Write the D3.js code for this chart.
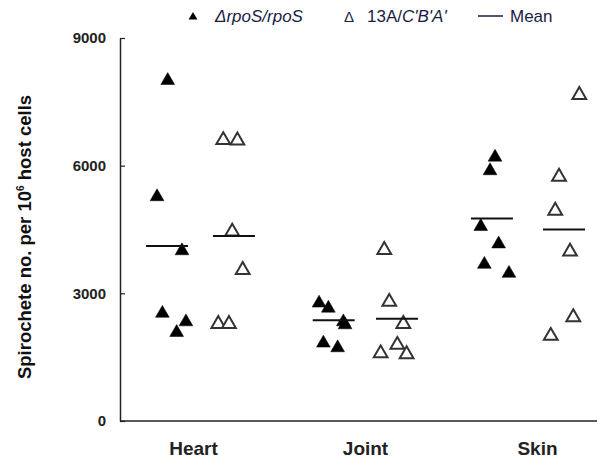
<!DOCTYPE html>
<html>
<head>
<meta charset="utf-8">
<script src="https://cdn.jsdelivr.net/npm/d3@7"></script>
<style>
  body { margin: 0; background: #fff; }
  text { font-family: Arial, "Liberation Sans", sans-serif; }
</style>
</head>
<body>
<div id="chart"></div>
<script>
const categories = ['Heart', 'Joint', 'Skin'];
const yTicks = [0, 3000, 6000, 9000];

// filled triangles: ΔrpoS/rpoS
const rposValues = [
  [8000, 5270, 4000, 2530, 2330, 2080],
  [2770, 2650, 2330, 2260, 1830, 1720],
  [6200, 5880, 4570, 4160, 3680, 3470]
];
const rposJitter = [
  [-0.147, -0.209, -0.064, -0.178, -0.041, -0.095],
  [-0.267, -0.213, -0.126, -0.116, -0.242, -0.159],
  [-0.244, -0.273, -0.327, -0.223, -0.306, -0.163]
];
const rposMeans = [4110, 2370, 4760];
const rposMeanJitter = [-0.151, -0.182, -0.262];

// open triangles: 13A/C'B'A'
const mutValues = [
  [6600, 6590, 4450, 3550, 2280, 2280],
  [4020, 2800, 2280, 1790, 1590, 1570],
  [7660, 5740, 4940, 3980, 2440, 2000]
];
const mutJitter = [
  [0.176, 0.258, 0.228, 0.289, 0.147, 0.209],
  [0.112, 0.141, 0.223, 0.188, 0.091, 0.242],
  [0.246, 0.128, 0.106, 0.192, 0.211, 0.080]
];
const mutMeans = [4350, 2400, 4500];
const mutMeanJitter = [0.238, 0.186, 0.157];

const width = 597;
const height = 458;

const svg = d3.select('#chart')
  .append('svg')
  .attr('width', width)
  .attr('height', height);

const x = d3.scaleLinear().domain([1, 3]).range([193, 537]);
const y = d3.scaleLinear().domain([0, 9000]).range([421, 38]);

const xPos = d3.scalePoint().domain(categories).range([x(1), x(3)]);

// y axis, inward ticks
const yAxis = d3.axisLeft(y)
  .tickValues(yTicks)
  .tickFormat(d3.format('d'))
  .tickSizeInner(-5)
  .tickSizeOuter(0)
  .tickPadding(14);

const gy = svg.append('g')
  .attr('transform', 'translate(120,0)')
  .call(yAxis);
gy.select('.domain').attr('stroke', '#222').attr('stroke-width', 1.5);
gy.selectAll('.tick line').attr('stroke', '#222').attr('stroke-width', 1.2);
gy.selectAll('.tick text')
  .attr('font-size', 15)
  .attr('font-weight', 'bold')
  .attr('fill', '#222');

// baseline
svg.append('line')
  .attr('x1', 120)
  .attr('x2', width)
  .attr('y1', y(0))
  .attr('y2', y(0))
  .attr('stroke', '#222')
  .attr('stroke-width', 1.5);

// category labels
const gx = svg.append('g')
  .attr('transform', 'translate(0,' + y(0) + ')')
  .call(d3.axisBottom(xPos).tickSize(0).tickPadding(21));
gx.select('.domain').remove();
gx.selectAll('.tick text')
  .attr('font-size', 19)
  .attr('font-weight', 'bold')
  .attr('fill', '#222');

// y label
const ylab = svg.append('text')
  .attr('transform', 'translate(31,' + 237 + ') rotate(-90)')
  .attr('text-anchor', 'middle')
  .attr('font-size', 18.5)
  .attr('font-weight', 'bold')
  .attr('fill', '#111');
ylab.append('tspan').text('Spirochete no. per 10');
ylab.append('tspan').attr('font-size', 10).attr('dy', -7).text('6');
ylab.append('tspan').attr('dy', 7).text(' host cells');

const tri = d3.symbol().type(d3.symbolTriangle).size(82);

// points
const flat = (vals, jit, kind) => vals.flatMap((arr, i) =>
  arr.map((v, j) => ({ v: v, p: i + 1 + jit[i][j], kind: kind })));

const pts = flat(rposValues, rposJitter, 'rpos').concat(flat(mutValues, mutJitter, 'mut'));

svg.selectAll('.pt')
  .data(pts)
  .enter()
  .append('path')
  .attr('class', 'pt')
  .attr('d', tri)
  .attr('transform', d => 'translate(' + x(d.p) + ',' + y(d.v) + ')')
  .attr('fill', d => d.kind === 'rpos' ? '#000' : '#fff')
  .attr('stroke', d => d.kind === 'rpos' ? '#000' : '#333')
  .attr('stroke-width', d => d.kind === 'rpos' ? 0.5 : 2);

// mean lines
const means = rposMeans.map((m, i) => ({ v: m, p: i + 1 + rposMeanJitter[i] }))
  .concat(mutMeans.map((m, i) => ({ v: m, p: i + 1 + mutMeanJitter[i] })));

svg.selectAll('.mean')
  .data(means)
  .enter()
  .append('line')
  .attr('class', 'mean')
  .attr('x1', d => x(d.p) - 21)
  .attr('x2', d => x(d.p) + 21)
  .attr('y1', d => y(d.v))
  .attr('y2', d => y(d.v))
  .attr('stroke', '#111')
  .attr('stroke-width', 2);

// legend
const lg = svg.append('g').attr('fill', '#1c1c44');
lg.append('path')
  .attr('d', d3.symbol().type(d3.symbolTriangle).size(34))
  .attr('transform', 'translate(193,17)')
  .attr('fill', '#000');
const t1 = lg.append('text').attr('x', 215).attr('y', 22).attr('font-size', 17).attr('font-style', 'italic');
t1.text('\u0394rpoS/rpoS');
lg.append('text').attr('x', 344).attr('y', 22).attr('font-size', 15).text('\u0394');
const t2 = lg.append('text').attr('x', 367).attr('y', 22).attr('font-size', 17);
t2.append('tspan').text('13A/');
t2.append('tspan').attr('font-style', 'italic').text("C'B'A'");
lg.append('line')
  .attr('x1', 478).attr('x2', 503)
  .attr('y1', 16).attr('y2', 16)
  .attr('stroke', '#1c1c44').attr('stroke-width', 1.5);
lg.append('text').attr('x', 510).attr('y', 22).attr('font-size', 17).text('Mean');
</script>
</body>
</html>
